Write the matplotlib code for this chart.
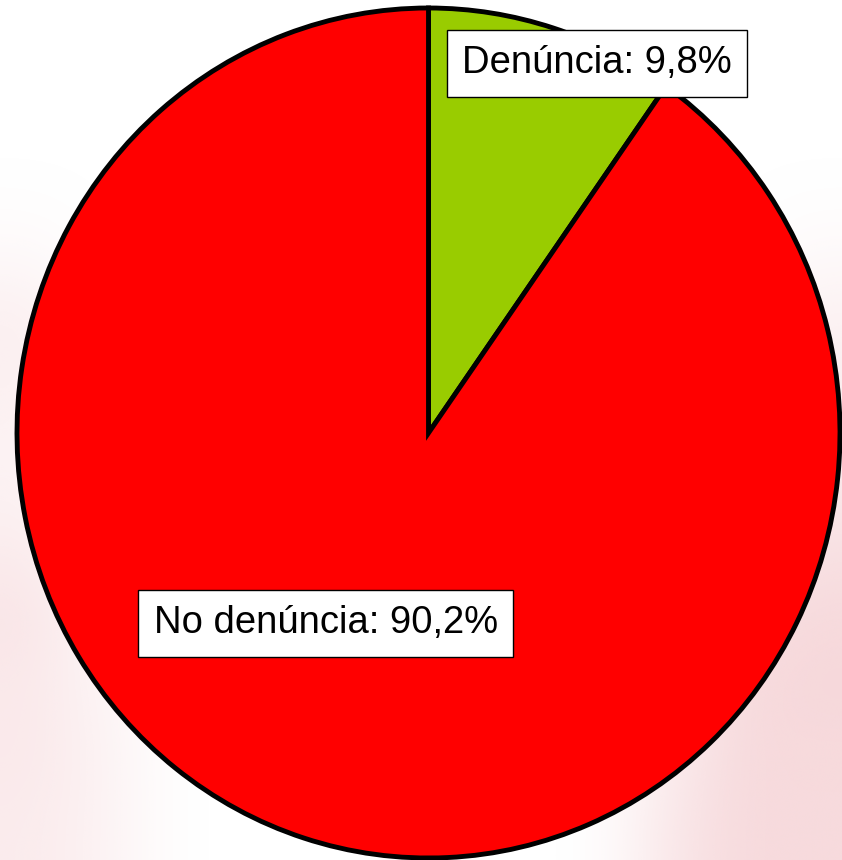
import numpy as np
import matplotlib.pyplot as plt

plt.rcParams['font.family'] = ['Liberation Sans', 'DejaVu Sans']

# datos del gráfico
categorias = ["Denúncia", "No denúncia"]
porcentajes = [9.8, 90.2]
colores = ["#99CC00", "#FF0000"]
etiquetas = [f"{c}: {str(p).replace('.', ',')}%" for c, p in zip(categorias, porcentajes)]

# intensidad de la marca de agua de fondo (rejilla gruesa, se suaviza al dibujar)
marca_agua = np.array([
    [0.0, 0, 0, 0, 0, 0, 0, 0, 0, 0, 0.0, 0.0],
    [0.0, 0, 0, 0, 0, 0, 0, 0, 0, 0, 0.0, 0.0],
    [0.0, 0, 0, 0, 0, 0, 0, 0, 0, 0, 0.0, 0.0],
    [0.1, 0, 0, 0, 0, 0, 0, 0, 0, 0, 0.0, 0.1],
    [0.35, 0, 0, 0, 0, 0, 0, 0, 0, 0, 0.0, 0.3],
    [0.3, 0, 0, 0, 0, 0, 0, 0, 0, 0, 0.0, 0.35],
    [0.25, 0, 0, 0, 0, 0, 0, 0, 0, 0, 0.0, 0.45],
    [0.35, 0, 0, 0, 0, 0, 0, 0, 0, 0, 0.2, 0.6],
    [0.55, 0.1, 0, 0, 0, 0, 0, 0, 0, 0.1, 0.6, 0.75],
    [0.45, 0.2, 0, 0, 0, 0, 0, 0, 0, 0.2, 0.75, 0.8],
    [0.45, 0.25, 0, 0, 0, 0, 0, 0, 0, 0.35, 0.75, 0.75],
    [0.4, 0.25, 0, 0, 0, 0, 0, 0, 0, 0.45, 0.75, 0.75],
])

fig = plt.figure(figsize=(8.42, 8.60), dpi=100)
fig.patch.set_facecolor("white")

fondo = fig.add_axes([0, 0, 1, 1], zorder=0)
rgba = np.zeros(marca_agua.shape + (4,))
rgba[..., :3] = np.array([240, 185, 190]) / 255
rgba[..., 3] = marca_agua * 0.7
fondo.imshow(rgba, interpolation="bicubic", aspect="auto", extent=(0, 1, 0, 1))
fondo.set_xlim(0, 1)
fondo.set_ylim(0, 1)
fondo.axis("off")

ax = fig.add_axes([17 / 842, 2 / 860, 823 / 842, 850 / 860], zorder=1)
ax.set_facecolor("none")
wedges, _ = ax.pie(porcentajes, colors=colores, startangle=90, counterclock=False,
                   wedgeprops=dict(edgecolor="black", linewidth=3.5))
for w in wedges:
    w.set_clip_on(False)
ax.set_xlim(-1, 1)
ax.set_ylim(-1, 1)
ax.set_aspect("auto")
ax.axis("off")

posiciones = [(0.705, 0.935), (0.375, 0.276)]
for texto, (px, py) in zip(etiquetas, posiciones):
    ax.text(px, py, texto, transform=ax.transAxes, ha="center", va="center",
            fontsize=27.5, color="black",
            bbox=dict(boxstyle="square,pad=0.40", facecolor="white", edgecolor="black", linewidth=1))

fig.savefig("out.png", dpi=100)
